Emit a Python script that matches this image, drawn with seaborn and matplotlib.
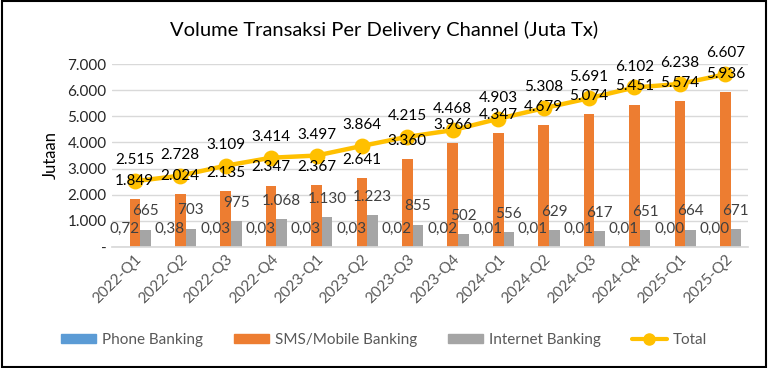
import numpy as np
import pandas as pd
import seaborn as sns
import matplotlib.pyplot as plt
from matplotlib.patches import Rectangle
from matplotlib.lines import Line2D
from matplotlib.patches import Patch

sns.set_theme(style="white")
plt.rcParams['font.family'] = ['Lato', 'DejaVu Sans']

# data
quarters = ['2022-Q1', '2022-Q2', '2022-Q3', '2022-Q4', '2023-Q1', '2023-Q2', '2023-Q3',
            '2023-Q4', '2024-Q1', '2024-Q2', '2024-Q3', '2024-Q4', '2025-Q1', '2025-Q2']
phone = [0.72, 0.38, 0.03, 0.03, 0.03, 0.03, 0.02, 0.02, 0.01, 0.01, 0.01, 0.01, 0.00, 0.00]
sms = [1849, 2024, 2135, 2347, 2367, 2641, 3360, 3966, 4347, 4679, 5074, 5451, 5574, 5936]
internet = [665, 703, 975, 1068, 1130, 1223, 855, 502, 556, 629, 617, 651, 664, 671]
total = [2515, 2728, 3109, 3414, 3497, 3864, 4215, 4468, 4903, 5308, 5691, 6102, 6238, 6607]

series = ['Phone Banking', 'SMS/Mobile Banking', 'Internet Banking']
colors = ['#5B9BD5', '#ED7D31', '#A5A5A5']

df = pd.DataFrame({
    'Kuartal': quarters * 3,
    'Channel': np.repeat(series, len(quarters)),
    'Volume': phone + sms + internet,
})

def fmt_id(v, dec=0):
    if dec:
        return f"{v:.{dec}f}".replace('.', ',')
    return f"{v:,.0f}".replace(',', '.')

fig = plt.figure(figsize=(7.68, 3.68), dpi=100)
ax = fig.add_axes([0.146, 0.329, 0.828, 0.497])

sns.barplot(data=df, x='Kuartal', y='Volume', hue='Channel', palette=colors,
            width=0.7, saturation=1, linewidth=0, ax=ax, legend=False, errorbar=None)
sns.pointplot(x=quarters, y=total, color='#FFC000', ax=ax, markers='o',
              markersize=9, linewidth=3.2)

# data labels
label_colors = ['#404040', 'black', '#404040']
for k, (cont, vals, lc) in enumerate(zip(ax.containers[:3], [phone, sms, internet], label_colors)):
    if k == 0:
        labs = [fmt_id(v, 2) for v in vals]
    else:
        labs = [fmt_id(v) for v in vals]
    ax.bar_label(cont, labels=labs, padding=8, fontsize=11, color=lc)

for i, v in enumerate(total):
    ax.annotate(fmt_id(v), (i, v), xytext=(0, 10), textcoords='offset points',
                ha='center', va='bottom', fontsize=11, color='black')

ax.set_ylim(0, 7000)
ax.set_xlim(-0.5, len(quarters) - 0.5)
ax.set_yticks(range(0, 7001, 1000))
ax.set_yticklabels(['-'] + [fmt_id(v) for v in range(1000, 7001, 1000)], fontsize=11)
ax.yaxis.grid(True, color='#D9D9D9', linewidth=1)
ax.set_axisbelow(True)
for s in ['top', 'right', 'left']:
    ax.spines[s].set_visible(False)
ax.spines['bottom'].set_color('#D9D9D9')
ax.tick_params(axis='both', length=0, pad=4)
plt.setp(ax.get_xticklabels(), rotation=45, ha='right', rotation_mode='anchor',
         fontsize=11, color='#595959')
ax.set_xlabel('')
ax.set_ylabel('Jutaan', fontsize=12, color='black', labelpad=6)

fig.text(0.5, 0.918, 'Volume Transaksi Per Delivery Channel (Juta Tx)',
         ha='center', va='center', fontsize=14.5, color='black')

handles = [Patch(color=colors[0]), Patch(color=colors[1]), Patch(color=colors[2]),
           Line2D([], [], color='#FFC000', lw=3, marker='o', markersize=8)]
fig.legend(handles, series + ['Total'], loc='center', bbox_to_anchor=(0.5, 0.076),
           ncol=4, frameon=False, fontsize=11, handlelength=2.3, handleheight=0.5,
           columnspacing=2.0, handletextpad=0.4, labelcolor='#595959')

fig.patches.append(Rectangle((0.002, 0.004), 0.996, 0.992, transform=fig.transFigure,
                             fill=False, edgecolor='black', linewidth=1.5))

fig.savefig('out.png', dpi=100)
